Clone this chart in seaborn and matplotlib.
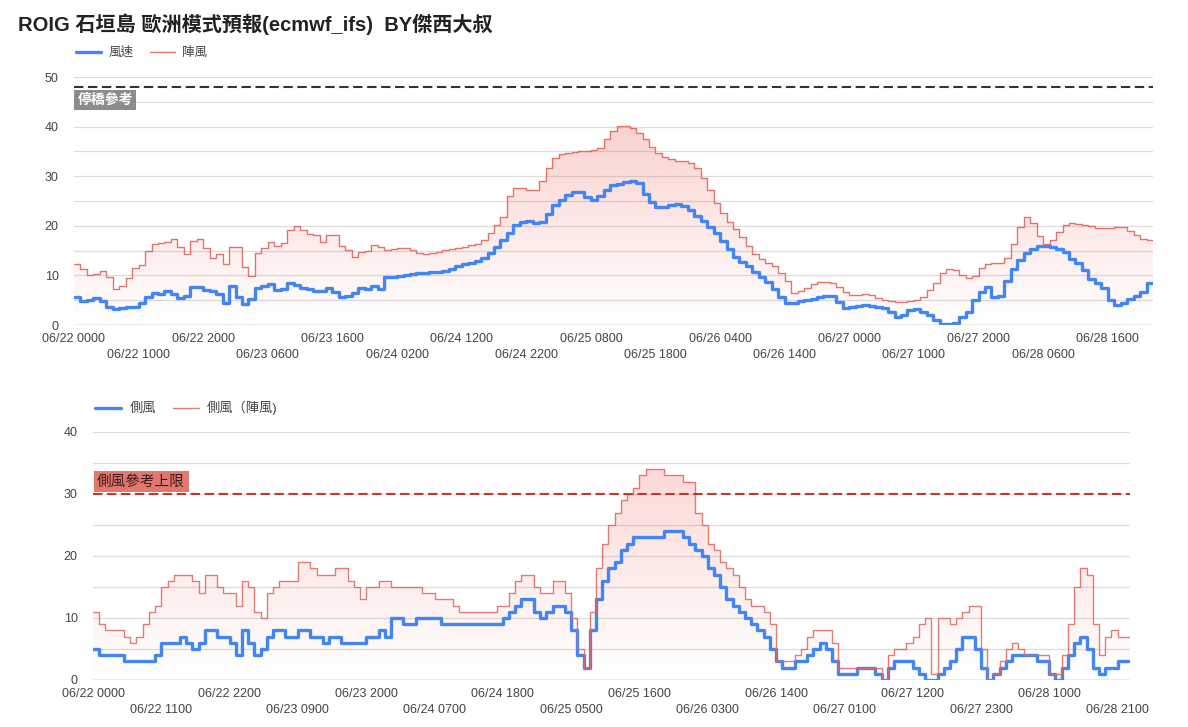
import numpy as np
import pandas as pd
import matplotlib
matplotlib.use("Agg")
import matplotlib.pyplot as plt
import matplotlib.colors as mcolors
import seaborn as sns

# ---------------- data (hourly, 06/22 00:00 -> 06/28 23:00) ----------------
hours = list(range(168))

wind = [5.6, 4.9, 5.1, 5.5, 4.9, 3.6, 3.2, 3.5, 3.6, 3.7,
        4.5, 5.7, 6.4, 6.3, 6.8, 6.3, 5.4, 5.9, 7.6, 7.7,
        7.0, 6.8, 6.3, 4.5, 7.9, 5.7, 4.3, 5.2, 7.4, 7.9,
        8.3, 7.1, 7.2, 8.4, 8.1, 7.5, 7.2, 6.9, 6.8, 7.4,
        6.6, 5.7, 5.8, 6.4, 7.4, 7.3, 7.9, 7.3, 9.7, 9.7,
        9.8, 10.1, 10.3, 10.4, 10.5, 10.6, 10.7, 10.9, 11.2, 11.8,
        12.2, 12.6, 13.0, 13.6, 14.6, 15.8, 17.1, 18.5, 20.2, 20.8,
        21.0, 20.6, 20.8, 22.3, 24.1, 25.3, 26.3, 26.9, 26.8, 25.9,
        25.3, 26.1, 27.2, 28.2, 28.4, 28.8, 29.0, 28.6, 26.5, 24.7,
        23.7, 23.7, 24.2, 24.4, 23.9, 23.1, 22.0, 20.9, 19.8, 18.5,
        17.0, 15.3, 13.8, 12.8, 11.8, 10.7, 9.7, 8.7, 7.3, 5.7,
        4.4, 4.4, 4.8, 5.1, 5.3, 5.6, 5.8, 5.9, 4.7, 3.5,
        3.6, 3.9, 4.0, 3.9, 3.6, 3.4, 2.6, 1.7, 2.0, 3.0,
        3.2, 2.6, 2.0, 1.1, 0.3, 0.3, 0.5, 1.7, 2.7, 5.0,
        6.7, 7.6, 5.7, 5.8, 8.9, 11.2, 13.1, 14.6, 15.3, 16.0,
        16.0, 15.8, 15.3, 14.7, 13.4, 12.4, 11.1, 9.2, 8.4, 7.5,
        5.0, 4.0, 4.4, 5.2, 5.8, 6.7, 8.4, 8.4]

gust = [12.2, 11.2, 10.0, 10.2, 10.8, 9.6, 7.3, 7.8, 9.4, 11.4,
        12.0, 14.9, 16.4, 16.6, 16.8, 17.4, 15.7, 14.4, 17.0, 17.4,
        15.5, 13.6, 14.3, 12.3, 15.7, 15.7, 11.6, 9.9, 14.5, 15.5,
        16.8, 16.0, 16.5, 19.1, 19.9, 19.1, 18.4, 18.1, 16.8, 18.2,
        18.2, 16.0, 15.1, 13.7, 14.7, 15.0, 16.2, 15.8, 15.1, 15.4,
        15.6, 15.5, 15.1, 14.6, 14.3, 14.5, 14.7, 15.1, 15.3, 15.6,
        15.8, 16.1, 16.3, 17.1, 18.5, 20.1, 21.8, 26.0, 27.6, 27.7,
        27.2, 27.2, 29.0, 31.7, 33.6, 34.4, 34.7, 34.9, 35.0, 35.1,
        35.3, 35.7, 37.4, 39.1, 40.2, 40.2, 39.7, 38.8, 37.4, 35.8,
        34.7, 33.9, 33.5, 33.1, 33.0, 32.7, 31.6, 29.6, 27.2, 24.5,
        22.6, 20.8, 19.4, 17.7, 15.9, 14.3, 13.4, 12.6, 11.8, 10.4,
        8.9, 6.5, 6.8, 7.4, 8.2, 8.7, 8.7, 8.5, 7.7, 6.7,
        6.0, 6.1, 6.3, 6.0, 5.5, 5.1, 4.8, 4.7, 4.7, 4.8,
        5.0, 5.7, 7.1, 8.4, 10.4, 11.3, 11.1, 10.1, 9.4, 9.9,
        11.4, 12.2, 12.6, 12.6, 13.6, 16.3, 19.8, 21.8, 20.6, 18.0,
        16.3, 17.1, 18.8, 20.2, 20.6, 20.4, 20.2, 20.0, 19.6, 19.6,
        19.6, 19.8, 19.8, 19.0, 18.1, 17.3, 17.1, 17.1]

cross = [5, 4, 4, 4, 4, 3, 3, 3, 3, 3,
         4, 6, 6, 6, 7, 6, 5, 6, 8, 8,
         7, 7, 6, 4, 8, 6, 4, 5, 7, 8,
         8, 7, 7, 8, 8, 7, 7, 6, 7, 7,
         6, 6, 6, 6, 7, 7, 8, 7, 10, 10,
         9, 9, 10, 10, 10, 10, 9, 9, 9, 9,
         9, 9, 9, 9, 9, 9, 10, 11, 12, 13,
         13, 11, 10, 11, 12, 12, 11, 8, 4, 2,
         8, 13, 16, 18, 19, 21, 22, 23, 23, 23,
         23, 23, 24, 24, 24, 23, 22, 21, 20, 18,
         17, 15, 13, 12, 11, 10, 9, 8, 7, 5,
         3, 2, 2, 3, 3, 4, 5, 6, 5, 3,
         1, 1, 1, 2, 2, 2, 1, 0, 2, 3,
         3, 3, 2, 1, 0, 0, 1, 2, 3, 5,
         7, 7, 5, 2, 0, 1, 2, 3, 4, 4,
         4, 4, 3, 3, 1, 0, 2, 4, 6, 7,
         5, 2, 1, 2, 2, 3, 3, 3]

cross_gust = [11, 9, 8, 8, 8, 7, 6, 7, 9, 11,
              12, 15, 16, 17, 17, 17, 16, 14, 17, 17,
              15, 14, 14, 12, 16, 15, 11, 10, 14, 15,
              16, 16, 16, 19, 19, 18, 17, 17, 17, 18,
              18, 16, 15, 13, 15, 15, 16, 16, 15, 15,
              15, 15, 15, 14, 14, 13, 13, 13, 12, 11,
              11, 11, 11, 11, 11, 12, 12, 14, 16, 17,
              17, 15, 14, 14, 16, 16, 14, 10, 5, 2,
              11, 18, 22, 25, 27, 29, 30, 31, 33, 34,
              34, 34, 33, 33, 33, 32, 32, 27, 25, 22,
              21, 19, 18, 17, 15, 13, 12, 12, 11, 9,
              3, 3, 3, 4, 5, 7, 8, 8, 8, 6,
              2, 2, 2, 2, 2, 2, 2, 0, 4, 5,
              5, 6, 7, 9, 10, 1, 10, 10, 9, 10,
              11, 12, 12, 5, 0, 1, 3, 5, 6, 5,
              4, 4, 4, 4, 1, 1, 4, 9, 15, 18,
              17, 9, 4, 7, 8, 7, 7, 7]

top_ticks = [0, 10, 20, 30, 40, 50, 60, 70, 80, 90, 100, 110, 120, 130, 140, 150, 160]
top_tick_labels = ["06/22 0000", "06/22 1000", "06/22 2000", "06/23 0600", "06/23 1600",
                   "06/24 0200", "06/24 1200", "06/24 2200", "06/25 0800", "06/25 1800",
                   "06/26 0400", "06/26 1400", "06/27 0000", "06/27 1000", "06/27 2000",
                   "06/28 0600", "06/28 1600"]
bot_ticks = [0, 11, 22, 33, 44, 55, 66, 77, 88, 99, 110, 121, 132, 143, 154, 165]
bot_tick_labels = ["06/22 0000", "06/22 1100", "06/22 2200", "06/23 0900", "06/23 2000",
                   "06/24 0700", "06/24 1800", "06/25 0500", "06/25 1600", "06/26 0300",
                   "06/26 1400", "06/27 0100", "06/27 1200", "06/27 2300", "06/28 1000",
                   "06/28 2100"]

bridge_ref = 48
cross_ref = 30
title = "ROIG 石垣島 歐洲模式預報(ecmwf_ifs)  BY傑西大叔"
top_names = ["風速", "陣風"]
bot_names = ["側風", "側風（陣風)"]

# ---------------- style ----------------
sns.set_theme(style="white")
plt.rcParams["font.family"] = ["Liberation Sans", "Noto Sans CJK TC", "DejaVu Sans"]

BLUE = "#4285f4"
RED = "#e0665e"
FILL = "#ea4335"
TXT = "#444444"

W, H = 1188, 727
fig = plt.figure(figsize=(W / 100, H / 100), dpi=100)
fig.patch.set_facecolor("white")


def px_axes(l, t, r, b):
    return fig.add_axes([l / W, 1 - b / H, (r - l) / W, (b - t) / H])


ax1 = px_axes(74, 77, 1153, 325)
ax2 = px_axes(93, 432, 1130, 680)

df = pd.DataFrame({"hour": hours, "wind": wind, "gust": gust,
                   "cross": cross, "cross_gust": cross_gust})


def gradient_fill(ax, x, y, ytop, alpha_top):
    poly = ax.fill_between(x, 0, y, step="post", facecolor="none", edgecolor="none")
    rgb = mcolors.to_rgb(FILL)
    grad = np.zeros((256, 1, 4))
    grad[:, 0, 0], grad[:, 0, 1], grad[:, 0, 2] = rgb
    grad[:, 0, 3] = np.linspace(alpha_top, 0.0, 256)
    im = ax.imshow(grad, aspect="auto", origin="upper",
                   extent=[min(x), max(x), 0, ytop], zorder=1, interpolation="bilinear")
    path = poly.get_paths()[0]
    im.set_clip_path(path, ax.transData)


def style_axis(ax, ymax, ticks, labels):
    ax.set_xlim(0, 167)
    ax.set_ylim(0, ymax)
    for s in ax.spines.values():
        s.set_visible(False)
    for v in np.arange(5, ymax + 0.1, 5):
        ax.axhline(v, color="#dddddd", lw=0.9, zorder=0)
    ax.axhline(0, color="#999999", lw=1.0, zorder=5)
    ax.set_yticks(np.arange(0, ymax + 0.1, 10))
    ax.set_yticklabels([str(int(v)) for v in np.arange(0, ymax + 0.1, 10)])
    ax.set_xticks(ticks)
    ax.set_xticklabels([lab if i % 2 == 0 else "\n" + lab for i, lab in enumerate(labels)],
                       linespacing=1.4)
    ax.tick_params(axis="both", length=0, labelsize=9, colors=TXT)
    ax.tick_params(axis="y", pad=11)
    ax.tick_params(axis="x", pad=6)
    ax.set_xlabel("")
    ax.set_ylabel("")
    ax.grid(False)


# ---------------- top panel ----------------
gradient_fill(ax1, hours, gust, 50, 0.30)
sns.lineplot(data=df, x="hour", y="wind", ax=ax1, color=BLUE, lw=2.4,
             drawstyle="steps-post", estimator=None, zorder=3, label=top_names[0])
sns.lineplot(data=df, x="hour", y="gust", ax=ax1, color=RED, lw=1.0, alpha=0.9,
             drawstyle="steps-post", estimator=None, zorder=4, label=top_names[1])
style_axis(ax1, 50, top_ticks, top_tick_labels)
ax1.axhline(bridge_ref, color="#333333", lw=1.5, dashes=(4.5, 2.2), zorder=6)
ax1.annotate("停橋參考", xy=(0, bridge_ref), xytext=(2.5, -4.5), textcoords="offset points",
             ha="left", va="top", fontsize=10, color="white", fontweight="bold",
             bbox=dict(boxstyle="square,pad=0.22", fc="#8c8c8c", ec="none"), zorder=7)
h, l = ax1.get_legend_handles_labels()
ax1.get_legend().remove()
fig.legend(h, l, loc="center left", bbox_to_anchor=(76 / W, 1 - 53 / H), ncol=2,
           frameon=False, fontsize=9, labelcolor=TXT, handlelength=2.0,
           handletextpad=0.6, columnspacing=1.3, borderpad=0, borderaxespad=0)

# ---------------- bottom panel ----------------
gradient_fill(ax2, hours, cross_gust, 40, 0.24)
sns.lineplot(data=df, x="hour", y="cross", ax=ax2, color=BLUE, lw=2.4,
             drawstyle="steps-post", estimator=None, zorder=3, label=bot_names[0])
sns.lineplot(data=df, x="hour", y="cross_gust", ax=ax2, color=RED, lw=1.0, alpha=0.85,
             drawstyle="steps-post", estimator=None, zorder=4, label=bot_names[1])
style_axis(ax2, 40, bot_ticks, bot_tick_labels)
ax2.axhline(cross_ref, color="#c0392b", lw=1.5, dashes=(4.5, 2.2), zorder=6)
ax2.annotate("側風參考上限", xy=(0, cross_ref), xytext=(3, 4), textcoords="offset points",
             ha="left", va="bottom", fontsize=10.5, color="#3a1a18",
             bbox=dict(boxstyle="square,pad=0.25", fc="#e2776f", ec="none"), zorder=7)
h, l = ax2.get_legend_handles_labels()
ax2.get_legend().remove()
fig.legend(h, l, loc="center left", bbox_to_anchor=(95 / W, 1 - 408 / H), ncol=2,
           frameon=False, fontsize=9.5, labelcolor=TXT, handlelength=2.0,
           handletextpad=0.6, columnspacing=1.3, borderpad=0, borderaxespad=0)

# ---------------- title ----------------
fig.text(18 / W, 1 - 24 / H, title, ha="left", va="center", fontsize=14.5,
         fontweight="bold", color="#222222")

fig.savefig("out.png", dpi=100, facecolor="white")
